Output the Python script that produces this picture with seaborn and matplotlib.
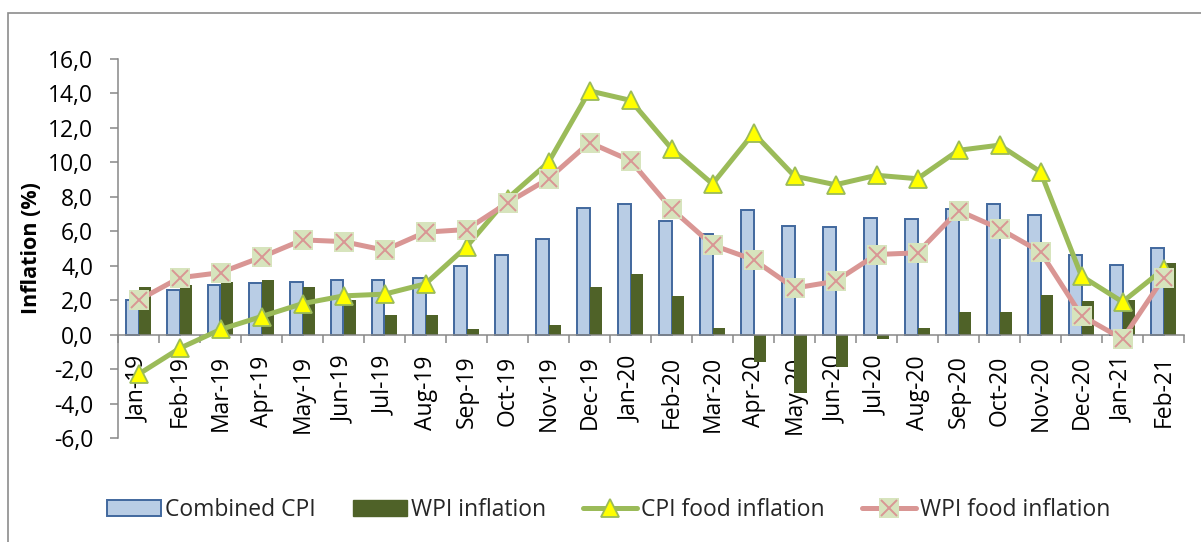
import numpy as np
import pandas as pd
import matplotlib
matplotlib.use("Agg")
import matplotlib.pyplot as plt
import seaborn as sns
from matplotlib.lines import Line2D
from matplotlib.patches import Patch, Rectangle
from matplotlib.ticker import FuncFormatter

# data
months = ["Jan-19", "Feb-19", "Mar-19", "Apr-19", "May-19", "Jun-19", "Jul-19",
          "Aug-19", "Sep-19", "Oct-19", "Nov-19", "Dec-19", "Jan-20", "Feb-20",
          "Mar-20", "Apr-20", "May-20", "Jun-20", "Jul-20", "Aug-20", "Sep-20",
          "Oct-20", "Nov-20", "Dec-20", "Jan-21", "Feb-21"]

combined_cpi = [2.0, 2.6, 2.9, 3.0, 3.05, 3.2, 3.2, 3.3, 4.0, 4.6, 5.55, 7.35, 7.6,
                6.6, 5.85, 7.25, 6.3, 6.25, 6.75, 6.7, 7.3, 7.6, 6.95, 4.6, 4.05, 5.05]

wpi_inflation = [2.75, 2.9, 3.05, 3.2, 2.75, 2.0, 1.15, 1.15, 0.3, 0.0, 0.55, 2.75, 3.5,
                 2.25, 0.4, -1.6, -3.4, -1.85, -0.25, 0.4, 1.3, 1.3, 2.3, 1.95, 2.0, 4.15]

cpi_food = [-2.3, -0.8, 0.3, 1.05, 1.8, 2.25, 2.35, 2.95, 5.1, 7.9, 10.0, 14.15, 13.6,
            10.8, 8.75, 11.7, 9.2, 8.7, 9.25, 9.05, 10.7, 11.0, 9.45, 3.4, 1.9, 3.8]

wpi_food = [2.0, 3.3, 3.6, 4.5, 5.5, 5.4, 4.9, 5.95, 6.1, 7.65, 9.05, 11.15, 10.1,
            7.3, 5.2, 4.35, 2.7, 3.1, 4.65, 4.75, 7.2, 6.15, 4.8, 1.1, -0.25, 3.3]

bar_series = ["Combined CPI", "WPI inflation"]
line_series = ["CPI food inflation", "WPI food inflation"]

# colours
cpi_fill = "#B9CDE5"
cpi_edge = "#41689E"
wpi_col = "#4F6228"
cfood_col = "#9BBB59"
wfood_col = "#D99694"
wfood_face = "#D7E4BD"
axis_grey = "#878787"

sns.set_theme(style="white")
plt.rcParams["font.family"] = ["Open Sans", "DejaVu Sans"]

df = pd.DataFrame({
    "month": months * 2,
    "value": combined_cpi + wpi_inflation,
    "series": [bar_series[0]] * len(months) + [bar_series[1]] * len(months),
})

fig = plt.figure(figsize=(12.01, 5.42), dpi=100)
ax = fig.add_axes([118 / 1201, 1 - 438 / 542, 1066 / 1201, 379 / 542])

sns.barplot(data=df, x="month", y="value", hue="series", hue_order=bar_series,
            palette=[cpi_fill, wpi_col], saturation=1, width=0.6, errorbar=None,
            legend=False, ax=ax, zorder=1)
for bar in ax.containers[0]:
    bar.set_edgecolor(cpi_edge)
    bar.set_linewidth(1.4)
for bar in ax.containers[1]:
    bar.set_edgecolor(wpi_col)
    bar.set_linewidth(0)

# CPI food: green line with yellow triangles
sns.pointplot(x=months, y=cpi_food, color=cfood_col, markers="^", linestyles="-",
              errorbar=None, linewidth=3.6, markersize=13, markerfacecolor="#FFFF00",
              markeredgecolor=cfood_col, markeredgewidth=1.3, ax=ax, zorder=4)
# WPI food: pink line with pale green squares and a pink cross on top
sns.pointplot(x=months, y=wpi_food, color=wfood_col, markers="s", linestyles="-",
              errorbar=None, linewidth=3.6, markersize=14.5, markerfacecolor=wfood_face,
              markeredgecolor=wfood_face, markeredgewidth=0, ax=ax, zorder=5)
sns.pointplot(x=months, y=wpi_food, color=wfood_col, markers="x", linestyles="none",
              errorbar=None, markersize=11, markeredgewidth=1.4, ax=ax, zorder=6)

ax.set_xlim(-0.5, len(months) - 0.5)
ax.set_ylim(-6, 16)
ax.set_yticks(np.arange(-6, 17, 2))
ax.yaxis.set_major_formatter(FuncFormatter(lambda v, _: f"{v:.1f}".replace(".", ",")))

ax.set_xticks(np.arange(-0.5, len(months), 1), minor=True)
ax.tick_params(axis="x", which="major", length=0, pad=15, labelsize=16.5,
               labelrotation=90, labelcolor="black")
ax.tick_params(axis="x", which="minor", length=5.5, width=1.1, color=axis_grey,
               direction="out", bottom=True)
ax.tick_params(axis="y", which="major", length=6, width=1.1, color=axis_grey,
               direction="out", left=True, pad=12, labelsize=16.5, labelcolor="black")

for side in ["top", "right"]:
    ax.spines[side].set_visible(False)
ax.spines["bottom"].set_position(("data", 0))
for side in ["left", "bottom"]:
    ax.spines[side].set_color(axis_grey)
    ax.spines[side].set_linewidth(1.1)

ax.set_xlabel("")
ax.set_ylabel("Inflation (%)", fontsize=15.5, fontweight="bold", color="black")
ax.yaxis.set_label_coords((42 - 118) / 1066, 0.5)

handles = [
    Patch(facecolor=cpi_fill, edgecolor=cpi_edge, linewidth=1.4),
    Patch(facecolor=wpi_col, edgecolor=wpi_col),
    Line2D([], [], color=cfood_col, lw=3.6, marker="^", markersize=13,
           markerfacecolor="#FFFF00", markeredgecolor=cfood_col, markeredgewidth=1.3),
    (Line2D([], [], color=wfood_col, lw=3.6, marker="s", markersize=14.5,
            markerfacecolor=wfood_face, markeredgewidth=0),
     Line2D([], [], color=wfood_col, linestyle="none", marker="x", markersize=11,
            markeredgewidth=1.4)),
]
fig.legend(handles, bar_series + line_series, loc="center left",
           bbox_to_anchor=(107 / 1201, 1 - 510 / 542), ncol=4, frameon=False,
           fontsize=16.5, handlelength=2.35, handleheight=0.65, handletextpad=0.2,
           columnspacing=1.6, borderpad=0, borderaxespad=0)

# grey chart-area border
fig.add_artist(Rectangle((8 / 1201, -0.05), 1.1, 1 - 13 / 542 + 0.05,
                         transform=fig.transFigure, fill=False,
                         edgecolor="#8C8C8C", linewidth=1.2))

fig.savefig("out.png", dpi=100)
